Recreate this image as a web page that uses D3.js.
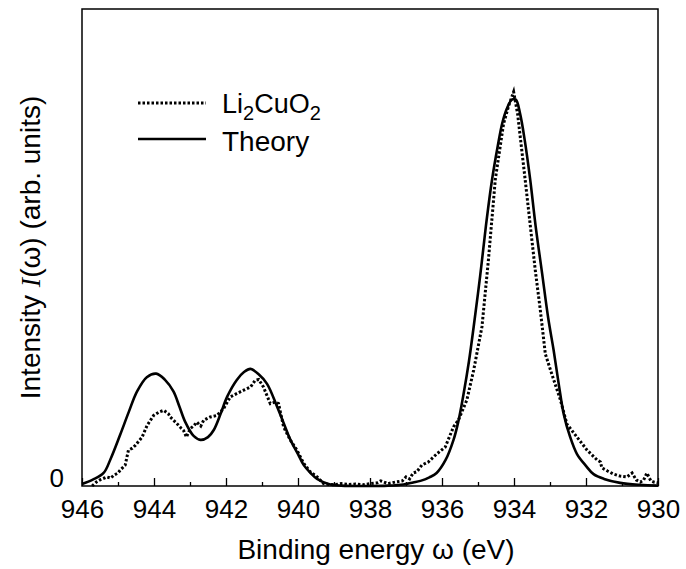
<!DOCTYPE html>
<html>
<head>
<meta charset="utf-8">
<script src="https://cdn.jsdelivr.net/npm/d3@7/dist/d3.min.js"></script>
<style>
  html, body { margin: 0; padding: 0; background: #fff; }
  svg { display: block; font-family: "Liberation Sans", Arial, sans-serif; }
</style>
</head>
<body>
<svg id="chart" width="686" height="569"></svg>
<script>
// Cu L3-edge spectrum: measured Li2CuO2 data and theoretical curve (arb. units)
const expEnergy = [945.72, 945.6, 945.49, 945.31, 945.2, 945.12, 945.0, 944.94, 944.8, 944.71, 944.6, 944.52,
  944.33, 944.19, 944.01, 943.85, 943.73, 943.6, 943.55, 943.36, 943.25, 943.18, 943.10, 942.99, 942.9,
  942.81, 942.7, 942.62, 942.44, 942.25, 942.07, 941.88, 941.69, 941.51, 941.32, 941.19, 941.09, 940.96,
  940.77, 940.63, 940.54, 940.40, 940.21, 940.03, 939.84, 939.66, 939.47, 939.29, 939.15, 939.0, 938.8,
  938.6, 938.4, 938.2, 938.0, 937.8, 937.7, 937.5, 937.3, 937.1, 937.0, 936.9, 936.8, 936.7, 936.56,
  936.38, 936.15, 935.91, 935.68, 935.54, 935.31, 935.12, 934.89, 934.71, 934.52, 934.29, 934.15, 934.01,
  933.9, 933.69, 933.41, 933.27, 933.13, 932.95, 932.71, 932.53, 932.25, 931.97, 931.69, 931.6, 931.56,
  931.4, 931.23, 931.05, 930.86, 930.72, 930.6, 930.49, 930.4, 930.31, 930.2, 930.12, 930.0];
const expIntensity = [0, 1.0, 1.6, 2.3, 2.0, 2.7, 3.3, 4.0, 5.3, 9.1, 9.6, 10.3,
  12.4, 15.4, 17.9, 18.8, 19.2, 18.3, 17.5, 15.8, 14.7, 14.1, 12.4, 14.6, 15.2,
  16.2, 15.2, 16.7, 17.5, 17.9, 19.6, 22.6, 23.5, 24.3, 25.1, 26.8, 27.0, 25.1,
  20.9, 21.3, 20.9, 15.0, 11.6, 9.1, 5.7, 3.6, 2.3, 0.6, 0.4, 0.3, 0.6,
  0.4, 0.5, 0.3, 0.6, 0.8, 1.3, 0.6, 1.0, 1.3, 2.3, 1.8, 3.3, 3.6, 5.3,
  6.1, 8.1, 9.9, 15.0, 16.8, 21.8, 29.4, 40.4, 57.4, 77.7, 91.9, 96.4, 100,
  94.4, 77.7, 54.8, 44.7, 33.5, 28.4, 21.8, 15.7, 12.4, 9.1, 6.6, 6.1, 4.6,
  3.8, 3.0, 2.5, 2.3, 3.3, 1.5, 1.0, 1.5, 3.3, 1.3, 1.0, 0.8];

const theoryEnergy = [946.0, 945.7, 945.4, 945.2, 944.94, 944.7, 944.47, 944.2, 943.94, 943.7, 943.46, 943.3,
  943.13, 942.9, 942.71, 942.5, 942.34, 942.15, 941.97, 941.7, 941.5, 941.32, 941.1, 940.86, 940.58,
  940.4, 940.21, 940.0, 939.84, 939.65, 939.47, 939.15, 938.8, 938.0, 937.5, 937.07, 936.8, 936.6,
  936.35, 936.15, 935.9, 935.68, 935.55, 935.4, 935.25, 935.12, 934.94, 934.78, 934.61, 934.45, 934.33,
  934.2, 934.06, 933.95, 933.83, 933.7, 933.55, 933.4, 933.22, 933.05, 932.9, 932.75, 932.62, 932.45,
  932.25, 932.0, 931.79, 931.5, 931.05, 930.5, 930.0];
const theoryIntensity = [0.5, 1.6, 3.3, 7.0, 13.0, 18.8, 24.0, 27.6, 28.5, 27.0, 24.0, 20.3,
  16.2, 12.7, 11.7, 12.4, 14.2, 18.3, 22.6, 26.9, 28.9, 29.7, 28.4, 25.9, 20.1,
  16.0, 11.7, 8.1, 5.3, 3.3, 1.8, 0.5, 0.1, 0, 0.1, 0.4, 0.9, 1.3,
  2.2, 3.3, 6.6, 11.7, 16.2, 23.4, 31.7, 40.4, 53.3, 66.0, 77.7, 86.3, 91.9,
  95.7, 98.0, 98.0, 94.4, 87.6, 77.7, 66.0, 54.0, 42.6, 34.5, 25.4, 18.3, 12.7,
  8.1, 5.1, 3.0, 1.8, 0.8, 0.3, 0.1];

const xTicks = [946, 944, 942, 940, 938, 936, 934, 932, 930];
const xMinorTicks = [945, 943, 941, 939, 937, 935, 933, 931];
const yTicks = [0];
const seriesNames = ["Li2CuO2", "Theory"];

const svg = d3.select("#chart");
const margin = { left: 82, right: 28, top: 9, bottom: 83 };
const W = 686, H = 569;

const x = d3.scaleLinear().domain([946, 930]).range([margin.left, W - margin.right]);
const y = d3.scaleLinear().domain([0, 121]).range([H - margin.bottom, margin.top]);

const expData = expEnergy.map((e, i) => [e, expIntensity[i]]);
const theoryData = theoryEnergy.map((e, i) => [e, theoryIntensity[i]]);

// frame
svg.append("rect")
  .attr("x", x(946)).attr("y", y(121))
  .attr("width", x(930) - x(946)).attr("height", y(0) - y(121))
  .attr("fill", "none").attr("stroke", "#000").attr("stroke-width", 1.5);

// x axis: inward ticks, major every 2 eV, minor every 1 eV
const xAxis = svg.append("g").attr("transform", `translate(0,${y(0)})`);
xAxis.call(d3.axisBottom(x).tickValues(xTicks).tickSize(-8).tickPadding(14).tickFormat(d3.format("d")))
  .call(g => g.select(".domain").remove())
  .call(g => g.selectAll(".tick line").attr("stroke-width", 1.3))
  .call(g => g.selectAll(".tick text").attr("font-size", 26).attr("fill", "#000")
    .attr("font-family", "Liberation Sans, Arial, sans-serif"));
xAxis.append("g")
  .call(d3.axisBottom(x).tickValues(xMinorTicks).tickSize(-4).tickFormat(""))
  .call(g => g.select(".domain").remove())
  .call(g => g.selectAll(".tick line").attr("stroke-width", 1.3));

// y axis: only the zero label
svg.append("g").attr("transform", `translate(${x(946)},0)`)
  .call(d3.axisLeft(y).tickValues(yTicks).tickSize(0).tickPadding(18))
  .call(g => g.select(".domain").remove())
  .call(g => g.selectAll(".tick text").attr("font-size", 26).attr("fill", "#000")
    .attr("dy", "0em")
    .attr("font-family", "Liberation Sans, Arial, sans-serif"));

const plot = svg.append("g");

// theory curve (solid)
plot.append("path")
  .datum(theoryData)
  .attr("fill", "none").attr("stroke", "#000").attr("stroke-width", 2.6)
  .attr("d", d3.line().x(d => x(d[0])).y(d => y(d[1])).curve(d3.curveCatmullRom.alpha(0.5)));

// measured spectrum (dotted)
plot.append("path")
  .datum(expData)
  .attr("fill", "none").attr("stroke", "#000").attr("stroke-width", 3)
  .attr("stroke-dasharray", "2.5,2")
  .attr("d", d3.line().x(d => x(d[0])).y(d => y(d[1])).curve(d3.curveLinear));

// legend
const legend = svg.append("g");
legend.append("line").attr("x1", 138).attr("x2", 206).attr("y1", 103).attr("y2", 103)
  .attr("stroke", "#000").attr("stroke-width", 3).attr("stroke-dasharray", "2.5,2");
legend.append("line").attr("x1", 138).attr("x2", 206).attr("y1", 139).attr("y2", 139)
  .attr("stroke", "#000").attr("stroke-width", 2.6);
const t1 = legend.append("text").attr("x", 222).attr("y", 113).attr("font-size", 27);
t1.append("tspan").text("Li");
t1.append("tspan").attr("font-size", 20).attr("dy", 7).text("2");
t1.append("tspan").attr("dy", -7).text("CuO");
t1.append("tspan").attr("font-size", 20).attr("dy", 7).text("2");
legend.append("text").attr("x", 222).attr("y", 151).attr("font-size", 28).text(seriesNames[1]);

// axis titles
svg.append("text")
  .attr("x", (x(946) + x(930)) / 2 + 6).attr("y", 559)
  .attr("text-anchor", "middle").attr("font-size", 28)
  .text("Binding energy \u03c9 (eV)");

const yl = svg.append("text")
  .attr("transform", `translate(40,${(y(0) + y(121)) / 2}) rotate(-90)`)
  .attr("text-anchor", "middle").attr("font-size", 28);
yl.append("tspan").text("Intensity ");
yl.append("tspan").attr("font-family", "Liberation Serif, Times New Roman, serif")
  .attr("font-style", "italic").text("I");
yl.append("tspan").text("(\u03c9) (arb. units)");
</script>
</body>
</html>
